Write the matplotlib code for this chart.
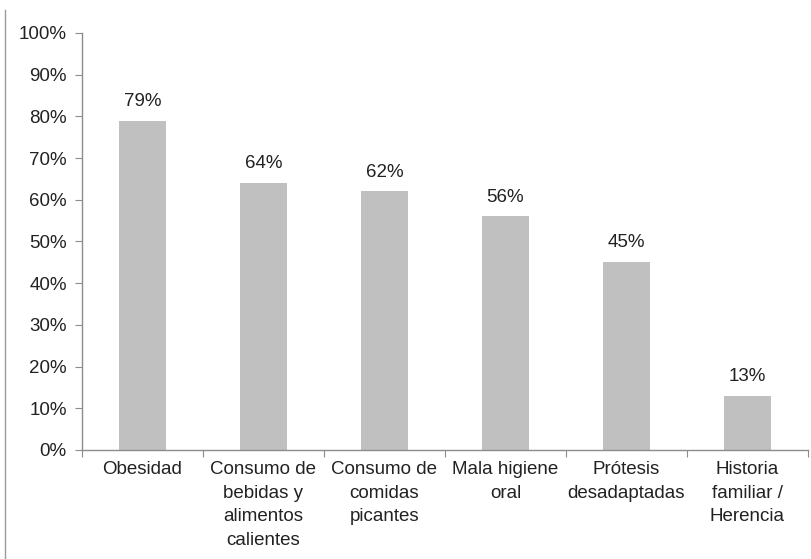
import numpy as np
import matplotlib.pyplot as plt
from matplotlib.lines import Line2D
from matplotlib.ticker import MultipleLocator, PercentFormatter

plt.rcParams['font.family'] = ['Liberation Sans', 'DejaVu Sans']

categories = ['Obesidad', 'Consumo de\nbebidas y\nalimentos\ncalientes', 'Consumo de\ncomidas\npicantes',
              'Mala higiene\noral', 'Prótesis\ndesadaptadas', 'Historia\nfamiliar /\nHerencia']
values = [79, 64, 62, 56, 45, 13]

text_color = '#222222'
axis_color = '#8c8c8c'
fs = 13.5

fig = plt.figure(figsize=(8.12, 5.59), dpi=100)
ax = fig.add_axes([0.101, 0.195, 0.894, 0.746])

x = np.arange(len(categories))
bars = ax.bar(x, values, width=0.39, color='#c0c0c0', zorder=2)

for xi, v in zip(x, values):
    ax.text(xi, v + 2.6, f'{v}%', ha='center', va='bottom', fontsize=fs, color=text_color)

ax.set_xlim(-0.5, len(categories) - 0.5)
ax.set_ylim(0, 100)
ax.yaxis.set_major_locator(MultipleLocator(10))
ax.yaxis.set_major_formatter(PercentFormatter(decimals=0))

# category labels between boundary ticks
ax.set_xticks(np.arange(len(categories) + 1) - 0.5)
ax.set_xticklabels([])
ax.set_xticks(x, minor=True)
ax.set_xticklabels(categories, minor=True, fontsize=fs, color=text_color, linespacing=1.5)
ax.tick_params(axis='x', which='minor', length=0, pad=8)
ax.tick_params(axis='x', which='major', length=5, color=axis_color)
ax.tick_params(axis='y', length=5, color=axis_color, labelsize=fs, labelcolor=text_color, pad=6)

for s in ['top', 'right']:
    ax.spines[s].set_visible(False)
for s in ['left', 'bottom']:
    ax.spines[s].set_color(axis_color)
    ax.spines[s].set_linewidth(1.0)

# thin frame line on the left edge of the picture
fig.add_artist(Line2D([5 / 812, 5 / 812], [0, 1 - 10 / 559], transform=fig.transFigure,
                      color='#9a9a9a', linewidth=1.0))

fig.savefig('out.png', dpi=100)
